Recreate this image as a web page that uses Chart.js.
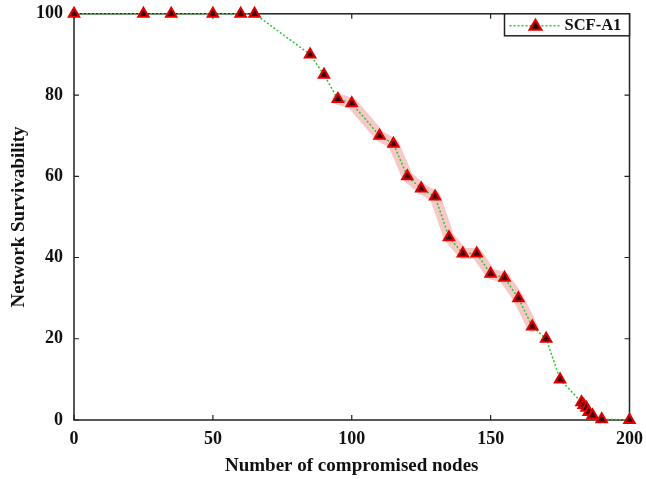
<!DOCTYPE html>
<html>
<head>
<meta charset="utf-8">
<script src="https://cdn.jsdelivr.net/npm/chart.js@4.4.0/dist/chart.umd.min.js"></script>
<style>
  html, body { margin: 0; padding: 0; background: #fff; }
  #wrap { width: 646px; height: 479px; }
</style>
</head>
<body>
<div id="wrap"><canvas id="survChart" width="646" height="479"></canvas></div>
<script>
// compromised nodes vs survivability
const nodes = [0, 25, 35, 50, 60, 65, 85, 90, 95, 100, 110, 115, 120, 125, 130, 135, 140, 145, 150, 155, 160, 165, 170, 175, 182.7, 183.5, 184.5, 185.3, 186.7, 190, 200];
const survivability = [100, 100, 100, 100, 100, 100, 90, 85, 79, 78, 70, 68, 60, 57, 55, 45, 41, 41, 36, 35, 30, 23, 20, 10, 4.4, 3.7, 3, 2, 1.2, 0.2, 0];
// the pink shaded stretch
const bandFrom = 95;
const bandTo = 165;
const xTicks = [0, 50, 100, 150, 200];
const yTicks = [0, 20, 40, 60, 80, 100];
const seriesName = 'SCF-A1';

const FONT = "'Liberation Serif', 'Times New Roman', serif";
const lineGreen = '#2ec42e';
const markerEdge = '#e00000';
const markerFace = '#3a0000';

const mainPts = nodes.map((x, i) => ({ x: x, y: survivability[i] }));
const bandPts = mainPts.filter(p => p.x >= bandFrom && p.x <= bandTo);

// box + inward ticks on all four sides
const framePlugin = {
    id: 'frame',
    beforeDatasetsDraw(chart) {
        const { ctx, chartArea: a, scales } = chart;
        ctx.save();
        ctx.strokeStyle = '#222';
        ctx.lineWidth = 1.5;
        ctx.strokeRect(a.left, a.top, a.right - a.left, a.bottom - a.top);
        ctx.lineWidth = 1.2;
        const len = 5;
        xTicks.forEach(v => {
            const px = scales.x.getPixelForValue(v);
            ctx.beginPath();
            ctx.moveTo(px, a.bottom); ctx.lineTo(px, a.bottom - len);
            ctx.moveTo(px, a.top); ctx.lineTo(px, a.top + len);
            ctx.stroke();
        });
        yTicks.forEach(v => {
            const py = scales.y.getPixelForValue(v);
            ctx.beginPath();
            ctx.moveTo(a.left, py); ctx.lineTo(a.left + len, py);
            ctx.moveTo(a.right, py); ctx.lineTo(a.right - len, py);
            ctx.stroke();
        });
        ctx.restore();
    },
    afterDraw(chart) {
        // legend box in the top right corner
        const { ctx, chartArea: a } = chart;
        const w = 125, h = 22;
        const x0 = a.right - w, y0 = a.top;
        ctx.save();
        ctx.fillStyle = '#fff';
        ctx.fillRect(x0, y0, w, h);
        ctx.strokeStyle = '#222';
        ctx.lineWidth = 1.5;
        ctx.strokeRect(x0, y0, w, h);
        const my = y0 + h / 2 + 1;
        ctx.strokeStyle = lineGreen;
        ctx.lineWidth = 1.5;
        ctx.setLineDash([2, 2]);
        ctx.beginPath();
        ctx.moveTo(x0 + 5, my); ctx.lineTo(x0 + 56, my);
        ctx.stroke();
        ctx.setLineDash([]);
        ctx.fillStyle = markerFace;
        ctx.strokeStyle = markerEdge;
        ctx.lineWidth = 2;
        ctx.beginPath();
        ctx.moveTo(x0 + 31, my - 6);
        ctx.lineTo(x0 + 37, my + 4);
        ctx.lineTo(x0 + 25, my + 4);
        ctx.closePath();
        ctx.fill(); ctx.stroke();
        ctx.fillStyle = '#111';
        ctx.font = 'bold 16.5px ' + FONT;
        ctx.textBaseline = 'middle';
        ctx.textAlign = 'left';
        ctx.fillText(seriesName, x0 + 60, my);
        ctx.restore();
    }
};

new Chart(document.getElementById('survChart'), {
    type: 'line',
    data: {
        datasets: [
            {
                label: 'band',
                data: bandPts,
                order: 2,
                borderColor: 'rgba(240, 145, 145, 0.5)',
                borderWidth: 11,
                borderCapStyle: 'round',
                borderJoinStyle: 'round',
                pointRadius: 0,
                fill: false,
                tension: 0
            },
            {
                label: seriesName,
                data: mainPts,
                order: 1,
                borderColor: lineGreen,
                borderWidth: 1.5,
                borderDash: [2, 2],
                pointStyle: 'triangle',
                pointRadius: 6,
                pointBackgroundColor: markerFace,
                pointBorderColor: markerEdge,
                pointBorderWidth: 2,
                fill: false,
                tension: 0,
                clip: false
            }
        ]
    },
    options: {
        responsive: false,
        animation: false,
        layout: { padding: 0 },
        plugins: {
            legend: { display: false },
            tooltip: { enabled: false }
        },
        scales: {
            x: {
                type: 'linear',
                min: 0,
                max: 200,
                afterBuildTicks: s => { s.ticks = xTicks.map(v => ({ value: v })); },
                afterFit: s => { s.height = 59; },
                // invisible tick marks, only there to push labels away from the axis
                grid: { display: true, drawOnChartArea: false, color: 'rgba(0,0,0,0)', tickLength: 6 },
                border: { display: false },
                ticks: {
                    color: '#111',
                    padding: 3,
                    font: { family: FONT, size: 18, weight: 'bold' }
                },
                title: {
                    display: true,
                    text: 'Number of compromised nodes',
                    color: '#111',
                    padding: { top: 0, bottom: 2 },
                    font: { family: FONT, size: 19, weight: 'bold' }
                }
            },
            y: {
                min: 0,
                max: 100,
                afterBuildTicks: s => { s.ticks = yTicks.map(v => ({ value: v })); },
                afterFit: s => { s.width = 74; },
                grid: { display: true, drawOnChartArea: false, color: 'rgba(0,0,0,0)', tickLength: 8 },
                border: { display: false },
                ticks: {
                    color: '#111',
                    padding: 3,
                    font: { family: FONT, size: 18, weight: 'bold' }
                },
                title: {
                    display: true,
                    text: 'Network Survivability',
                    color: '#111',
                    padding: { top: 8, bottom: 0 },
                    font: { family: FONT, size: 19, weight: 'bold' }
                }
            }
        }
    },
    plugins: [framePlugin]
});
</script>
</body>
</html>
